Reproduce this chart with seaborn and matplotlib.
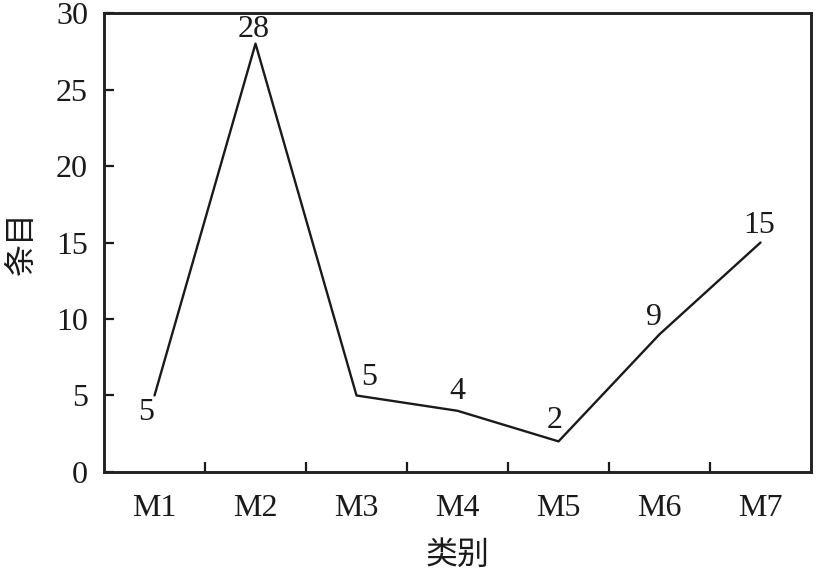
import numpy as np
import pandas as pd
import matplotlib
matplotlib.use("Agg")
import matplotlib.pyplot as plt
from matplotlib.ticker import FixedLocator
import seaborn as sns

# data
categories = ["M1", "M2", "M3", "M4", "M5", "M6", "M7"]
counts = [5, 28, 5, 4, 2, 9, 15]
y_ticks = [0, 5, 10, 15, 20, 25, 30]

# label offsets (points) relative to each data point
label_offsets = [(-6, -12), (-1, 10), (9, 13), (0, 14), (-3, 15), (-4, 12), (-1, 12)]

sns.set_theme(style="ticks")
plt.rcParams['font.family'] = ['Liberation Serif', 'Noto Sans CJK SC']
plt.rcParams['text.color'] = '#1a1a1a'
plt.rcParams['xtick.color'] = '#1a1a1a'
plt.rcParams['ytick.color'] = '#1a1a1a'
plt.rcParams['axes.labelcolor'] = '#1a1a1a'
cjk = ['Noto Sans CJK SC', 'DejaVu Sans']

df = pd.DataFrame({"category": categories, "count": counts})

fig, ax = plt.subplots(figsize=(8.17, 5.71), dpi=100)
fig.subplots_adjust(left=0.1273, right=0.9927, top=0.9772, bottom=0.1734)

sns.lineplot(data=df, x="category", y="count", color="#1a1a1a", linewidth=1.7,
             sort=False, ax=ax)

for i, (cat, val) in enumerate(zip(categories, counts)):
    dx, dy = label_offsets[i]
    ax.annotate(str(val), xy=(i, val), xytext=(dx, dy), textcoords="offset points",
                ha="center", va="center", fontsize=23)

ax.set_xlim(-0.5, len(categories) - 0.5)
ax.set_ylim(0, 30)
ax.set_yticks(y_ticks)
ax.xaxis.set_minor_locator(FixedLocator(np.arange(0.5, len(categories) - 1, 1.0)))

ax.tick_params(axis="x", which="major", length=0, pad=15.5, labelsize=23)
ax.tick_params(axis="x", which="minor", direction="in", length=7.2, width=1.6)
ax.tick_params(axis="y", which="major", direction="in", length=7.2, width=1.6,
               pad=11.5, labelsize=23)

for spine in ax.spines.values():
    spine.set_linewidth(2.1)
    spine.set_color("#222222")
    spine.set_visible(True)

ax.set_xlabel("类别", fontsize=23, family=cjk, labelpad=12)
ax.set_ylabel("条目", fontsize=23, family=cjk, labelpad=13)

plt.savefig("out.png", dpi=100)
plt.close()
